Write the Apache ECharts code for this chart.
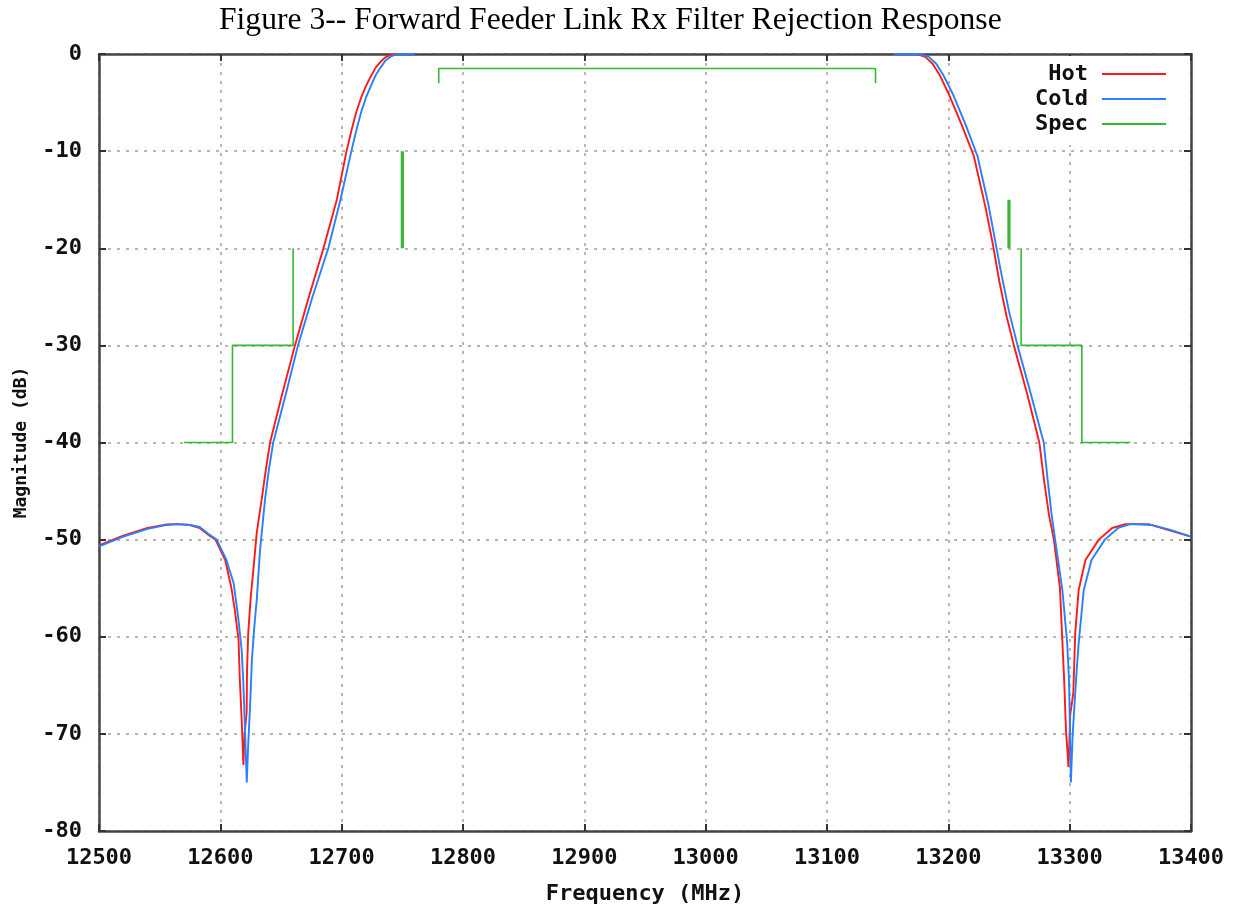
<!DOCTYPE html>
<html>
<head>
<meta charset="utf-8">
<title>Forward Feeder Link Rx Filter Rejection Response</title>
<script src="https://cdn.jsdelivr.net/npm/echarts@6/dist/echarts.min.js"></script>
<style>
  html, body { margin: 0; padding: 0; background: #ffffff; }
  #chart { width: 1244px; height: 911px; }
</style>
</head>
<body>
<div id="chart"></div>
<script>
// Measured filter response, [frequency MHz, magnitude dB]
const hotLow = [[12500,-50.6],[12520,-49.6],[12540,-48.8],[12555,-48.45],[12565,-48.4],[12575,-48.5],[12583,-48.8],[12590,-49.5],[12596,-50.0],[12604,-52.1],[12609,-54.9],[12612,-57.3],[12615,-60.3],[12616,-64.2],[12617.6,-68.6],[12619,-73.2],[12620,-70],[12621.7,-67.8],[12622,-63.5],[12623,-59.6],[12625,-56],[12627,-53.4],[12630,-49.3],[12634,-45.9],[12637.5,-42.8],[12641,-40],[12651,-35],[12661.5,-30],[12673,-25],[12685,-20],[12696,-15],[12704,-10],[12708,-7.9],[12712,-6.0],[12716,-4.5],[12720,-3.3],[12724,-2.3],[12728,-1.4],[12732,-0.8],[12736,-0.35],[12740,-0.1],[12745,0],[12760,0]];
const hotHigh = [[13155,0],[13174,0],[13181,-0.3],[13187,-1],[13193,-2.2],[13201,-4.3],[13211,-7.3],[13221,-10.5],[13231,-16],[13237,-19.8],[13242,-23.4],[13248,-27],[13254,-30],[13265,-35],[13275,-40],[13279,-44],[13283,-47.5],[13287,-50],[13292,-55],[13294,-60.5],[13295.5,-64.6],[13297,-69.7],[13299,-73.4],[13300.5,-68],[13303,-65.8],[13304.6,-59.6],[13307.4,-55.2],[13313,-52.1],[13324,-50],[13335,-48.8],[13346,-48.4],[13365,-48.4],[13381,-49],[13400,-49.7]];
const coldLow = [[12500,-50.7],[12520,-49.7],[12540,-48.9],[12555,-48.5],[12565,-48.4],[12575,-48.5],[12583,-48.7],[12590,-49.4],[12597,-50.0],[12605,-52.1],[12611,-54.5],[12615,-58.3],[12617.6,-61.4],[12619,-64.8],[12620.4,-69.9],[12621.8,-75],[12623,-71],[12624.5,-67.2],[12626,-62.4],[12628,-59],[12630,-56.2],[12632.7,-51.1],[12636.8,-45.9],[12640,-42.8],[12643.6,-40],[12654,-35],[12664,-30],[12676,-25],[12689,-20],[12699,-15],[12708,-10],[12712,-7.9],[12716,-6.0],[12720,-4.5],[12724,-3.3],[12728,-2.2],[12732,-1.4],[12736,-0.7],[12740,-0.3],[12744,-0.05],[12748,0],[12760,0]];
const coldHigh = [[13155,0],[13176,0],[13184,-0.3],[13190,-1],[13196,-2.2],[13204,-4.2],[13214,-7.2],[13224,-10.5],[13233,-15.5],[13239,-19.5],[13243,-22.2],[13250,-26.5],[13257,-30],[13268,-35],[13278.6,-40],[13282,-44],[13285,-47.3],[13288,-50],[13294,-55.2],[13298,-60.7],[13299.5,-64.6],[13301,-75],[13302.5,-70],[13304,-67],[13305.5,-64],[13307.4,-60.7],[13311.6,-55.2],[13318,-52.1],[13329,-50],[13340,-48.8],[13350,-48.4],[13368,-48.5],[13383,-49.0],[13400,-49.7]];

// Rejection / passband specification masks
const specLow = [[12570,-40],[12610,-40],[12610,-30],[12660,-30],[12660,-20]];
const specPass = [[12780,-3],[12780,-1.5],[13140,-1.5],[13140,-3]];
const specHigh = [[13260,-20],[13260,-30],[13310,-30],[13310,-40],[13350,-40]];
const specMarkLow = [[12750,-10],[12750,-20]];
const specMarkHigh = [[13250,-15],[13250,-20]];

const xTicks = { min: 12500, max: 13400, step: 100 };
const yTicks = { min: -80, max: 0, step: 10 };

const HOT = '#ff1a1a';
const COLD = '#2a7fff';
const SPEC = '#33b833';
const MONO = "'DejaVu Sans Mono', 'Liberation Mono', monospace";

const chart = echarts.init(document.getElementById('chart'), null, { renderer: 'canvas' });

const gridDots = { show: true, lineStyle: { color: '#aa9e8c', width: 1.5, type: [3, 6] } };
const frameLine = { show: true, onZero: false, lineStyle: { color: '#454545', width: 2.5 } };
const innerTick = { show: true, inside: true, length: 7, lineStyle: { color: '#333', width: 2 } };
const tickFont = { fontFamily: MONO, fontWeight: 'bold', fontSize: 22, color: '#111' };
const plain = v => String(v);

function line(name, data, color, width) {
  return {
    name, type: 'line', data, showSymbol: false, symbol: 'none',
    lineStyle: { color, width }, itemStyle: { color },
    xAxisIndex: 0, yAxisIndex: 0, animation: false
  };
}

chart.setOption({
  animation: false,
  backgroundColor: '#ffffff',
  title: {
    text: 'Figure 3-- Forward Feeder Link Rx Filter Rejection Response',
    left: 214, top: 0,
    textStyle: { fontFamily: "'Liberation Serif', 'Times New Roman', serif", fontSize: 31.6, fontWeight: 'normal', color: '#000' }
  },
  grid: { left: 99, right: 53, top: 54, bottom: 80, containLabel: false },
  legend: {
    data: ['Hot', 'Cold', 'Spec'],
    orient: 'vertical', right: 54, top: 56,
    align: 'right',
    padding: [7, 24, 10, 50],
    backgroundColor: '#ffffff',
    itemGap: 3, itemWidth: 64, itemHeight: 2,
    icon: 'rect',
    textStyle: { fontFamily: MONO, fontWeight: 'bold', fontSize: 22, color: '#111', padding: [0, 9, 0, 0] }
  },
  xAxis: [
    {
      type: 'value', min: xTicks.min, max: xTicks.max, interval: xTicks.step,
      position: 'bottom',
      name: 'Frequency (MHz)', nameLocation: 'middle', nameGap: 52,
      nameTextStyle: { fontFamily: MONO, fontWeight: 'bold', fontSize: 22, color: '#111' },
      axisLine: frameLine, axisTick: innerTick, splitLine: gridDots,
      axisLabel: Object.assign({ margin: 16, formatter: plain }, tickFont)
    },
    {
      type: 'value', min: xTicks.min, max: xTicks.max, interval: xTicks.step,
      position: 'top',
      axisLine: frameLine, axisTick: innerTick, splitLine: { show: false },
      axisLabel: { show: false }
    }
  ],
  yAxis: [
    {
      type: 'value', min: yTicks.min, max: yTicks.max, interval: yTicks.step,
      position: 'left',
      name: 'Magnitude (dB)', nameLocation: 'middle', nameGap: 69, nameRotate: 90,
      nameTextStyle: { fontFamily: MONO, fontWeight: 'bold', fontSize: 18, color: '#111' },
      axisLine: frameLine, axisTick: innerTick, splitLine: gridDots,
      axisLabel: Object.assign({ margin: 17, formatter: plain }, tickFont)
    },
    {
      type: 'value', min: yTicks.min, max: yTicks.max, interval: yTicks.step,
      position: 'right',
      axisLine: frameLine, axisTick: innerTick, splitLine: { show: false },
      axisLabel: { show: false }
    }
  ],
  series: [
    line('Hot', hotLow, HOT, 1.9),
    line('Hot', hotHigh, HOT, 1.9),
    line('Cold', coldLow, COLD, 1.9),
    line('Cold', coldHigh, COLD, 1.9),
    line('Spec', specLow, SPEC, 1.6),
    line('Spec', specPass, SPEC, 1.6),
    line('Spec', specHigh, SPEC, 1.6),
    line('Spec', specMarkLow, SPEC, 3.2),
    line('Spec', specMarkHigh, SPEC, 3.2)
  ]
});
</script>
</body>
</html>
